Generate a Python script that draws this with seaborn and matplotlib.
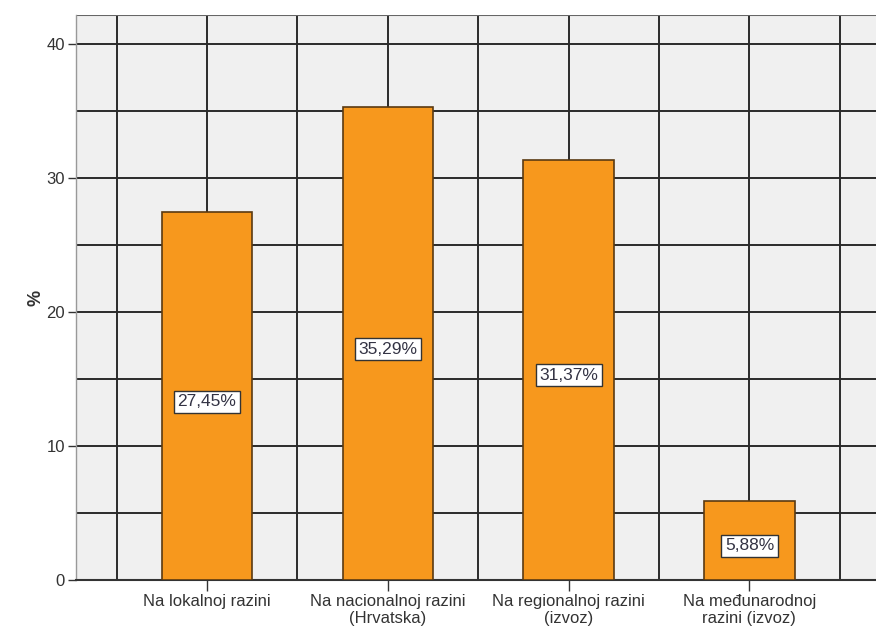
import numpy as np
import seaborn as sns
import matplotlib.pyplot as plt
import pandas as pd
from matplotlib.ticker import MultipleLocator

categories = ['Na lokalnoj razini', 'Na nacionalnoj razini\n(Hrvatska)',
              'Na regionalnoj razini\n(izvoz)', 'Na međunarodnoj\nrazini (izvoz)']
values = [27.45, 35.29, 31.37, 5.88]
labels = ['27,45%', '35,29%', '31,37%', '5,88%']

df = pd.DataFrame({'cat': categories, 'pct': values})

sns.set_style('white')
plt.rcParams['font.family'] = ['Liberation Sans', 'DejaVu Sans']

fig = plt.figure(figsize=(8.76, 6.37), dpi=100)
ax = fig.add_axes([0.0868, 0.0895, 0.9132, 0.887])
ax.set_facecolor('#f0f0f0')

sns.barplot(data=df, x='cat', y='pct', color='#f7981d', width=0.5,
            edgecolor='#5a3a12', linewidth=1.2, saturation=1, ax=ax, zorder=3)

for i, (v, t) in enumerate(zip(values, labels)):
    ax.text(i, v / 2 - 0.4, t, ha='center', va='center', fontsize=12.5, color='#333344', zorder=5,
            bbox=dict(boxstyle='square,pad=0.2', fc='white', ec='#333333', lw=1))

ax.set_xlim(-0.724, 3.70)
ax.set_ylim(0, 42.2)
ax.yaxis.set_major_locator(MultipleLocator(10))
ax.yaxis.set_minor_locator(MultipleLocator(5))
ax.xaxis.set_minor_locator(MultipleLocator(0.5))
ax.grid(True, which='both', color='#2a2a2a', linewidth=1.4, zorder=0)
ax.set_axisbelow(True)

for s in ['top', 'right']:
    ax.spines[s].set_visible(False)
ax.spines['left'].set_color('#999999')
ax.spines['left'].set_linewidth(1)
ax.spines['bottom'].set_color('#333333')
ax.spines['bottom'].set_linewidth(1.5)
ax.axhline(42.2, color='#666666', lw=1.5, zorder=1)

ax.tick_params(axis='y', which='major', length=6, width=1, color='#333333',
               labelsize=12, labelcolor='#333333', left=True, pad=2)
ax.tick_params(axis='y', which='minor', length=0)
ax.tick_params(axis='x', which='major', length=8, width=1, color='#333333',
               labelsize=12, labelcolor='#333333', bottom=True, pad=2)
ax.tick_params(axis='x', which='minor', length=0)

ax.set_xlabel('')
ax.set_ylabel('%', fontsize=13, fontweight='bold', color='#333333', labelpad=1)

fig.savefig('out.png', dpi=100)
